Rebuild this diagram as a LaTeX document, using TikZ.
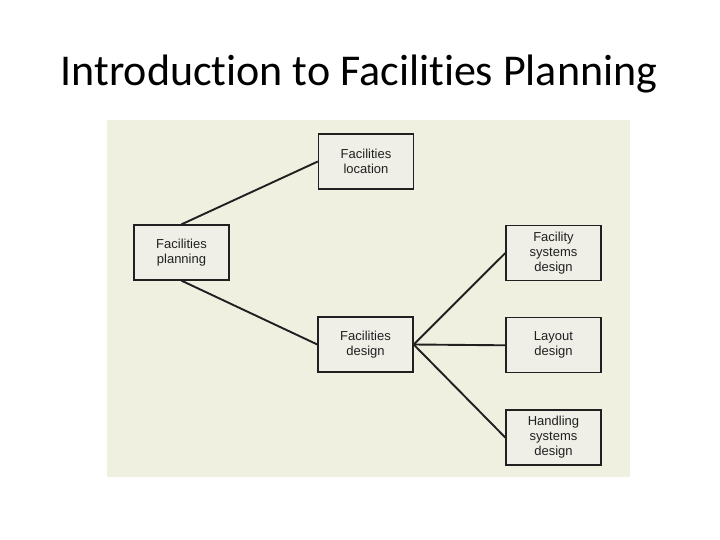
\documentclass[tikz,border=0pt]{standalone}
\usepackage{fontspec}
\setmainfont{Liberation Sans}
\newfontfamily\titlefont[Ligatures={NoCommon}]{Carlito}
\usetikzlibrary{positioning}
\definecolor{paper}{HTML}{F0F0E1}
\definecolor{boxfill}{HTML}{EFEFE8}
\definecolor{ink}{HTML}{202020}

\begin{document}
\begin{tikzpicture}[x=1pt,y=-1pt,
    box/.style={draw=ink,fill=boxfill,line width=1.3pt,minimum width=95pt,
                minimum height=55pt,inner sep=0pt,align=center,
                font=\fontsize{13}{15}\selectfont,text=ink},
    link/.style={ink,line width=1.9pt},
    node distance=36pt
  ]
    \useasboundingbox (0,0) rectangle (720,540);
    \node[font=\titlefont\fontsize{44}{52}\selectfont,anchor=base] (title) at (359,86) {Introduction to Facilities Planning};
    \fill[paper] (107,120) rectangle (630,477);

    \node[box] (plan) at (181.5,252.5) {Facilities\\planning};
    \node[box] (loc)  at (366,161.5)   {Facilities\\location};
    \node[box] (des)  at (365.5,344.5) {Facilities\\design};
    \node[box] (fsd)  at (553.5,253)   {Facility\\systems\\design};
    \node[box,below=of fsd] (lay) {Layout\\design};
    \node[box,below=of lay] (hsd) {Handling\\systems\\design};

    \draw[link] (plan.north) -- (loc.west);
    \draw[link] (plan.south) -- (des.west);
    \draw[link] (des.east) -- (fsd.west);
    \draw[link] (des.east) -- (lay.west);
    \draw[link] (des.east) -- (hsd.west);
  \end{tikzpicture}
\end{document}
